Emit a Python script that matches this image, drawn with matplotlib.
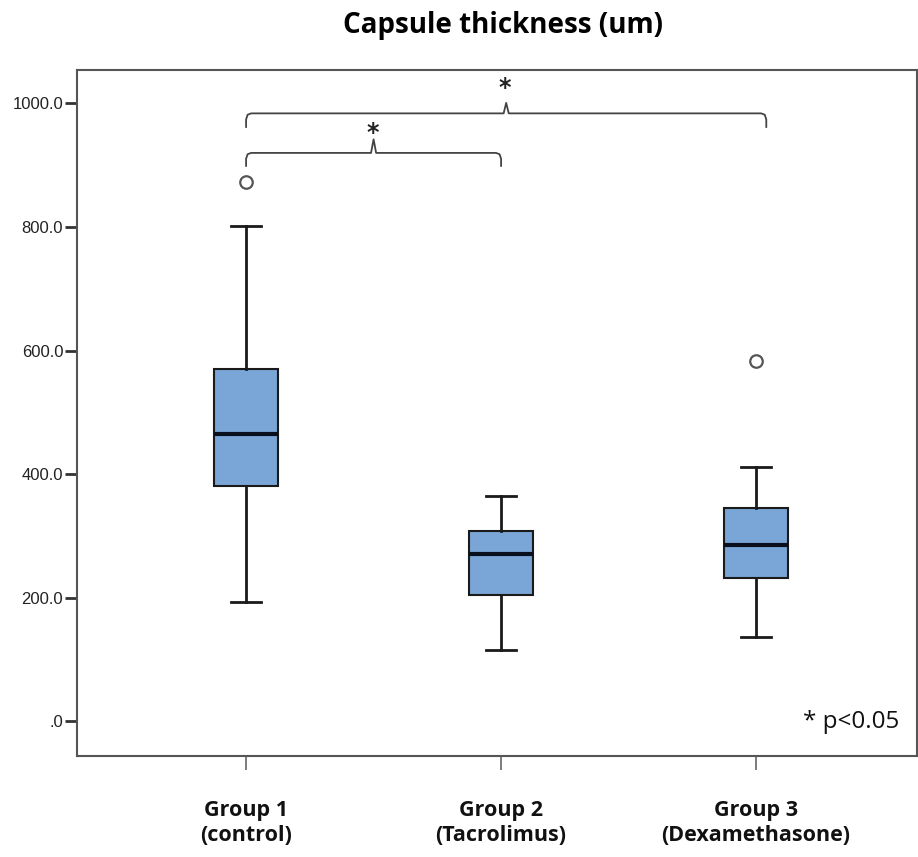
import numpy as np
import matplotlib
matplotlib.use('Agg')
import matplotlib.pyplot as plt

# group labels and box statistics (um)
groups = ['Group 1\n(control)', 'Group 2\n(Tacrolimus)', 'Group 3\n(Dexamethasone)']
whis_lo = [193, 116, 137]
q1 = [381, 205, 232]
median = [465, 271, 286]
q3 = [570, 308, 346]
whis_hi = [802, 364, 411]
outliers = [[873], [], [583]]

yticks = [0, 200, 400, 600, 800, 1000]
ytick_labels = ['.0', '200.0', '400.0', '600.0', '800.0', '1000.0']

stats = []
for i in range(len(groups)):
    stats.append(dict(whislo=whis_lo[i], q1=q1[i], med=median[i], q3=q3[i],
                      whishi=whis_hi[i], fliers=outliers[i]))

fig = plt.figure(figsize=(9.18, 8.57), dpi=100)
ax = fig.add_axes([0.0839, 0.1179, 0.915, 0.801])

pos = np.arange(1, len(groups) + 1)
ax.bxp(stats, positions=pos, widths=0.25, patch_artist=True, capwidths=0.12,
       boxprops=dict(facecolor='#79a6d6', edgecolor='#1a1a1a', linewidth=1.5),
       medianprops=dict(color='#0a0f1e', linewidth=3),
       whiskerprops=dict(color='#1a1a1a', linewidth=2),
       capprops=dict(color='#1a1a1a', linewidth=2),
       flierprops=dict(marker='o', markerfacecolor='white', markeredgecolor='#555555',
                       markersize=9, markeredgewidth=1.6))

ax.set_xlim(0.337, 3.631)
ax.set_ylim(-56, 1055)

for s in ax.spines.values():
    s.set_color('#555555')
    s.set_linewidth(1.5)

ax.set_yticks(yticks)
ax.set_yticklabels(ytick_labels, family='Liberation Sans', fontsize=12, color='#222222')
ax.tick_params(axis='y', direction='out', length=9, width=2, color='#333333', pad=1)
ax.set_xticks(pos)
ax.set_xticklabels(groups, family='Open Sans', fontweight='bold', fontsize=15.5,
                   linespacing=1.25, color='#111111')
ax.tick_params(axis='x', direction='out', length=10, width=1.2, color='#666666', pad=22)


def bracket(x0, x1, y, tip, peak, star_y):
    xm = (x0 + x1) / 2
    r = 0.02
    xs = [x0, x0, x0 + r * 0.3, x0 + r, xm - r * 0.5, xm, xm + r * 0.5, x1 - r, x1 - r * 0.3, x1, x1]
    ys = [y - tip, y - tip * 0.45, y - tip * 0.1, y, y, y + peak, y, y, y - tip * 0.1, y - tip * 0.45, y - tip]
    ax.plot(xs, ys, color='#444444', lw=1.3, solid_joinstyle='round')
    ax.text(xm - 0.005, star_y, '*', ha='center', va='center', fontsize=17, fontweight='bold',
            family='DejaVu Sans', color='#222222')


bracket(1.0, 3.04, 984, 22, 17, 1025)
bracket(1.0, 2.0, 920, 21, 22, 953)

ax.text(0.979, 0.05, '* p<0.05', transform=ax.transAxes, ha='right', va='center',
        family='Open Sans', fontsize=17.5, color='#111111')

fig.text(0.548, 0.970, 'Capsule thickness (um)', ha='center', va='center',
         family='Open Sans', fontweight='bold', fontsize=20)

fig.savefig('out.png', dpi=100)
